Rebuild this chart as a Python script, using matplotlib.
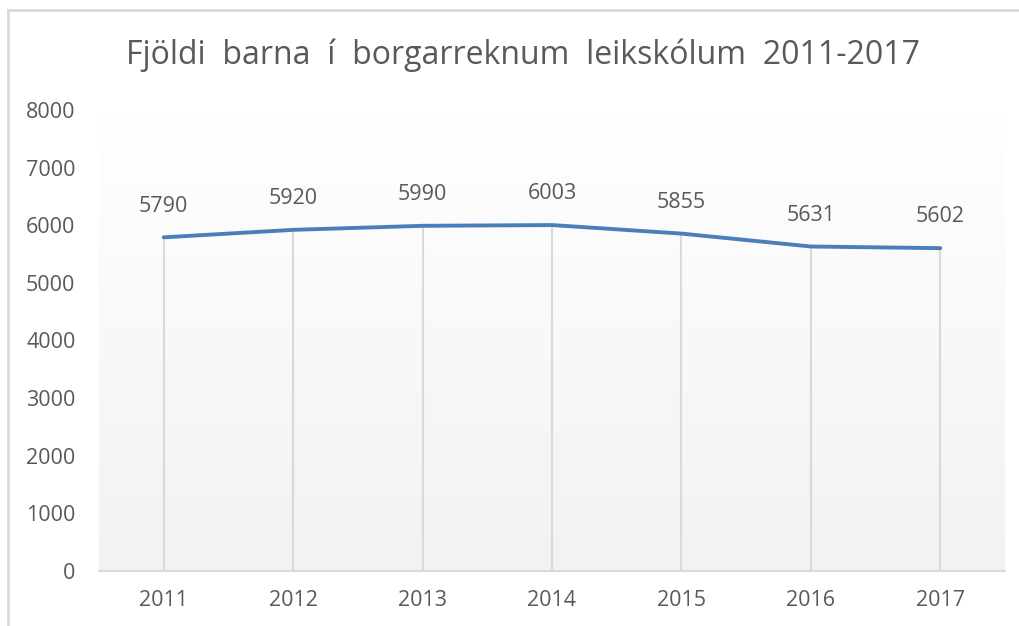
import matplotlib.pyplot as plt
import numpy as np
from matplotlib.lines import Line2D

years = ["2011", "2012", "2013", "2014", "2015", "2016", "2017"]
children = [5790, 5920, 5990, 6003, 5855, 5631, 5602]
yticks = [0, 1000, 2000, 3000, 4000, 5000, 6000, 7000, 8000]

txt = "#595959"
plt.rcParams['font.family'] = ['Open Sans', 'DejaVu Sans']

fig = plt.figure(figsize=(10.19, 6.26), dpi=100)
ax = fig.add_axes([0.0972, 0.0879, 0.889, 0.7364])

x = np.arange(len(years))
ax.set_xlim(-0.5, len(years) - 0.5)
ax.set_ylim(0, 8000)

# gradient plot area: white on top, light grey at bottom
grad = np.linspace(0, 1, 256).reshape(-1, 1)
ax.imshow(grad, cmap=plt.matplotlib.colors.LinearSegmentedColormap.from_list(
    "g", ["#f2f2f2", "#ffffff"]), aspect="auto", origin="lower",
    extent=[-0.5, len(years) - 0.5, 0, 8000], zorder=0)

# drop lines
ax.vlines(x, 0, children, color="#d9d9d9", lw=1.5, zorder=1)
ax.plot(x, children, color="#4a7ebb", lw=2.8, solid_capstyle="round", zorder=3)

for xi, v in zip(x, children):
    ax.annotate(str(v), (xi, v), xytext=(0, 22.5), textcoords="offset points",
                ha="center", va="center", fontsize=15.5, color=txt)

ax.set_xticks(x)
ax.set_xticklabels(years)
ax.set_yticks(yticks)
ax.tick_params(length=0, labelsize=15.5, labelcolor=txt)
ax.tick_params(axis="x", pad=14)
ax.tick_params(axis="y", pad=17)
for s in ["top", "right", "left"]:
    ax.spines[s].set_visible(False)
ax.spines["bottom"].set_color("#d9d9d9")
ax.spines["bottom"].set_linewidth(1.5)

fig.text(0.513, 0.912, "Fjöldi  barna  í  borgarreknum  leikskólum  2011-2017",
         ha="center", va="center", fontsize=23, color=txt)

# outer frame (top and left edges)
fig.add_artist(Line2D([0.0079, 1.0], [0.984, 0.984], color="#d9d9d9", lw=2,
                      transform=fig.transFigure))
fig.add_artist(Line2D([0.0079, 0.0079], [0.0, 0.984], color="#d9d9d9", lw=2,
                      transform=fig.transFigure))

fig.savefig("out.png", dpi=100)
